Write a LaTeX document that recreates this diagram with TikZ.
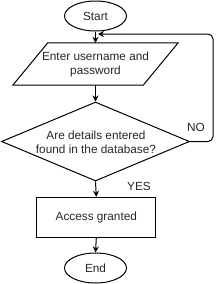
\documentclass[tikz,border=0pt]{standalone}
\usepackage{fontspec}
\setmainfont{Liberation Sans}
\usetikzlibrary{shapes.geometric,arrows.meta,calc}
\begin{document}
\begin{tikzpicture}[x=1pt,y=-1pt,
  every node/.style={font=\fontsize{11.8}{14}\selectfont, text=black!85},
  term/.style={ellipse,draw,line width=1pt,minimum width=62pt,minimum height=30pt,inner sep=0pt},
  io/.style={rectangle,minimum width=165pt,minimum height=42pt,inner sep=0pt,align=center},
  shapeline/.style={draw,line width=1pt},
  decision/.style={diamond,draw,line width=1pt,minimum width=188pt,minimum height=79pt,inner sep=0pt},
  proc/.style={rectangle,draw,line width=1pt,minimum width=119pt,minimum height=40pt,inner sep=0pt},
  txt/.style={align=center,inner sep=0pt},
  flow/.style={draw,line width=1pt,-{Stealth[length=6pt,width=6pt]}}]
\useasboundingbox (0,0) rectangle (224,284);
\node[term] (start) at (95.5,16) {Start};
\node[io] (input) at (95.5,64) {Enter username and\\password};
\draw[shapeline] ($(input.north west)+(35,0)$) -- (input.north east)
  -- ($(input.south east)+(-35,0)$) -- (input.south west) -- cycle;
\node[decision] (dec) at (95.5,141.5) {};
\node[txt] (dectxt) at (96,142.5) {Are details entered\\found in the database?};
\node[proc] (acc) at (96.3,217.3) {Access granted};
\node[term] (end) at (95.5,268) {End};
\node[inner sep=0pt] (no) at (196,127) {NO};
\node[inner sep=0pt] (yes) at (139,186.5) {YES};
\coordinate (looptip) at (98,34);
\draw[flow] (start.south) -- (input.north);
\draw[flow] (input.south) -- (dec.north);
\draw[flow] (dec.south) -- (acc.north);
\draw[flow] (acc.south) -- (end.north);
\draw[flow,rounded corners=5pt] (dec.east) -- (213,141.5) -- (213,34) -- (looptip);
\end{tikzpicture}
\end{document}
